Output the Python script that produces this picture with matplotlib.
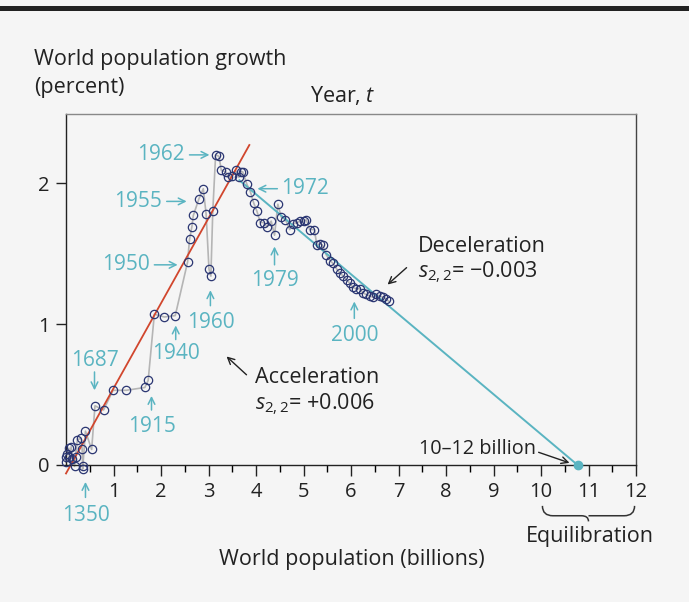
import matplotlib
matplotlib.use("Agg")
from matplotlib import pyplot as plt
from matplotlib.path import Path
from matplotlib.patches import PathPatch, Rectangle
import numpy as np

plt.rcParams["font.family"] = ["Open Sans", "DejaVu Sans"]
plt.rcParams["mathtext.fontset"] = "custom"
plt.rcParams["mathtext.rm"] = "Open Sans"
plt.rcParams["mathtext.it"] = "Open Sans:italic"

# world population (billions) vs growth rate (percent), chronological order
population = [0.00, 0.00, 0.02, 0.06, 0.07, 0.11, 0.13, 0.18, 0.20, 0.24, 0.32, 0.34,
              0.35, 0.35, 0.41, 0.54, 0.61, 0.79, 0.99, 1.27, 1.66, 1.73,
              1.86, 2.07, 2.30, 2.56, 2.60, 2.65, 2.68, 2.80, 2.89, 2.95, 3.01, 3.05,
              3.09, 3.15, 3.22, 3.27, 3.36, 3.41, 3.50, 3.57, 3.64, 3.69, 3.72, 3.81,
              3.88, 3.95, 4.02, 4.09, 4.16, 4.23, 4.32, 4.39, 4.46, 4.53, 4.62, 4.71,
              4.77, 4.86, 4.93, 5.00, 5.06, 5.13, 5.23, 5.28, 5.34, 5.40, 5.48, 5.56,
              5.62, 5.70, 5.77, 5.84, 5.91, 5.98, 6.04, 6.11, 6.18, 6.25, 6.32, 6.39,
              6.46, 6.53, 6.60, 6.67, 6.73, 6.80]
growth = [0.02, 0.06, 0.08, 0.12, 0.06, 0.13, 0.04, -0.01, 0.06, 0.18, 0.19, 0.11,
          -0.01, -0.03, 0.24, 0.11, 0.42, 0.39, 0.53, 0.53, 0.55, 0.60,
          1.07, 1.05, 1.06, 1.44, 1.60, 1.69, 1.77, 1.89, 1.96, 1.78, 1.39, 1.34,
          1.80, 2.20, 2.19, 2.09, 2.08, 2.04, 2.05, 2.09, 2.04, 2.08, 2.08, 1.99,
          1.94, 1.86, 1.80, 1.72, 1.72, 1.69, 1.73, 1.63, 1.85, 1.76, 1.74, 1.67,
          1.71, 1.72, 1.73, 1.73, 1.74, 1.67, 1.67, 1.56, 1.57, 1.56, 1.49, 1.45,
          1.43, 1.39, 1.36, 1.34, 1.31, 1.29, 1.26, 1.25, 1.25, 1.22, 1.21, 1.20,
          1.19, 1.21, 1.20, 1.19, 1.18, 1.16]

# fitted trend lines
accel_x = [0.0, 3.86]
accel_y = [-0.06, 2.27]
decel_x = [3.65, 10.77]
decel_y = [2.02, 0.0]

# year labels: (text, x, y of text, arrow start, arrow end)
year_up = [("1350", 0.41, -0.36, -0.23, -0.12),
           ("1915", 1.80, 0.27, 0.39, 0.49),
           ("1940", 2.31, 0.79, 0.89, 0.99),
           ("1960", 3.04, 1.01, 1.13, 1.24),
           ("1979", 4.39, 1.31, 1.42, 1.55),
           ("2000", 6.07, 0.92, 1.04, 1.16)]
year_right = [("1950", 1.42, 1.86, 2.35),
              ("1955", 1.87, 2.12, 2.54),
              ("1962", 2.20, 2.60, 3.02)]

teal = "#5ab4c1"
navy = "#2b3672"
red = "#d1462d"
bg = "#f5f5f5"
ink = "#222222"
fs = 15.5      # words
fn = 15        # year labels
ft = 14.5      # tick labels

fig = plt.figure(figsize=(6.89, 6.02), dpi=100, facecolor=bg)
fig.add_artist(Rectangle((0, 1 - 11 / 602), 1, 5 / 602, transform=fig.transFigure,
                         color=ink, lw=0))
ax = fig.add_axes([66 / 689, 1 - 465 / 602, 570 / 689, 351 / 602])
ax.set_facecolor(bg)

ax.plot(accel_x, accel_y, color=red, lw=1.3, clip_on=False, zorder=2)
ax.plot(decel_x, decel_y, color=teal, lw=1.4, clip_on=False, zorder=2)
ax.plot(decel_x[-1], decel_y[-1], "o", color=teal, ms=6, clip_on=False, zorder=4)
ax.plot(population, growth, color="#b5b5b5", lw=1.2, clip_on=False, zorder=1)
ax.plot(population, growth, "o", mfc="none", mec=navy, mew=0.9, ms=6,
        clip_on=False, zorder=3)

ax.set_xlim(0, 12)
ax.set_ylim(0, 2.49)
ax.set_xticks(range(1, 13))
ax.set_xticks(np.arange(0.5, 12.5, 1), minor=True)
ax.set_yticks([0, 1, 2])
ax.tick_params(axis="both", labelsize=ft, colors=ink, width=1, pad=4)
ax.tick_params(axis="x", which="major", length=8)
ax.tick_params(axis="x", which="minor", length=5, width=1)
ax.tick_params(axis="y", length=7, pad=5)
for s in ax.spines.values():
    s.set_linewidth(1)
    s.set_color(ink)
ax.spines["top"].set_color("#888888")
ax.spines["right"].set_color("#444444")

arr = dict(arrowstyle="->", color=teal, lw=1.1, shrinkA=0, shrinkB=0,
           mutation_scale=12)
for label, x, ty, y0, y1 in year_up:
    ax.annotate("", xy=(x, y1), xytext=(x, y0), arrowprops=arr, annotation_clip=False)
    ax.text(x, ty, label, color=teal, fontsize=fn, ha="center", va="center", clip_on=False)
for label, y, x0, x1 in year_right:
    ax.annotate("", xy=(x1, y), xytext=(x0, y), arrowprops=arr)
    ax.text(x0 - 0.1, y, label, color=teal, fontsize=fn, ha="right", va="center")
ax.annotate("", xy=(0.60, 0.53), xytext=(0.60, 0.66), arrowprops=arr)
ax.text(0.60, 0.74, "1687", color=teal, fontsize=fn, ha="center", va="center")
ax.annotate("", xy=(4.03, 1.96), xytext=(4.45, 1.96), arrowprops=arr)
ax.text(4.52, 1.96, "1972", color=teal, fontsize=fn, ha="left", va="center")

blk = dict(arrowstyle="->", color=ink, lw=1, shrinkA=0, shrinkB=0,
           mutation_scale=12)
ax.annotate("", xy=(3.38, 0.77), xytext=(3.80, 0.64), arrowprops=blk)
ax.text(3.97, 0.62, "Acceleration", fontsize=fs, color=ink, va="center")
ax.text(3.97, 0.43, "$s_{2,2}$= +0.006", fontsize=fs, color=ink, va="center")
ax.annotate("", xy=(6.77, 1.28), xytext=(7.17, 1.40), arrowprops=blk)
ax.text(7.40, 1.55, "Deceleration", fontsize=fs, color=ink, va="center")
ax.text(7.40, 1.37, "$s_{2,2}$= \u22120.003", fontsize=fs, color=ink, va="center")
ax.annotate("", xy=(10.6, 0.015), xytext=(9.95, 0.09), arrowprops=blk,
            annotation_clip=False)
ax.text(7.44, 0.11, "10\u201312 billion", fontsize=14.3, color=ink, va="center")

# brace under 10-12
verts = [(10.03, -0.29), (10.03, -0.36), (10.25, -0.36), (10.85, -0.36),
         (11.0, -0.36), (11.0, -0.40), (11.0, -0.36), (11.15, -0.36),
         (11.75, -0.36), (11.97, -0.36), (11.97, -0.29)]
codes = [Path.MOVETO, Path.CURVE3, Path.CURVE3, Path.LINETO,
         Path.CURVE3, Path.CURVE3, Path.MOVETO, Path.LINETO,
         Path.LINETO, Path.CURVE3, Path.CURVE3]
ax.add_patch(PathPatch(Path(verts, codes), fill=False, ec="#333333", lw=1.1,
                       clip_on=False))
ax.text(11.02, -0.51, "Equilibration", fontsize=fs, color=ink,
        ha="center", va="center", clip_on=False)

fig.text(352 / 689, 1 - 560 / 602, "World population (billions)", fontsize=fs,
         color=ink, ha="center", va="center")
fig.text(34 / 689, 1 - 60 / 602, "World population growth", fontsize=fs,
         color=ink, ha="left", va="center")
fig.text(34 / 689, 1 - 88 / 602, "(percent)", fontsize=fs,
         color=ink, ha="left", va="center")
fig.text(343 / 689, 1 - 96 / 602, "Year, $t$", fontsize=fs,
         color=ink, ha="center", va="center")

fig.savefig("out.png", dpi=100, facecolor=bg)
